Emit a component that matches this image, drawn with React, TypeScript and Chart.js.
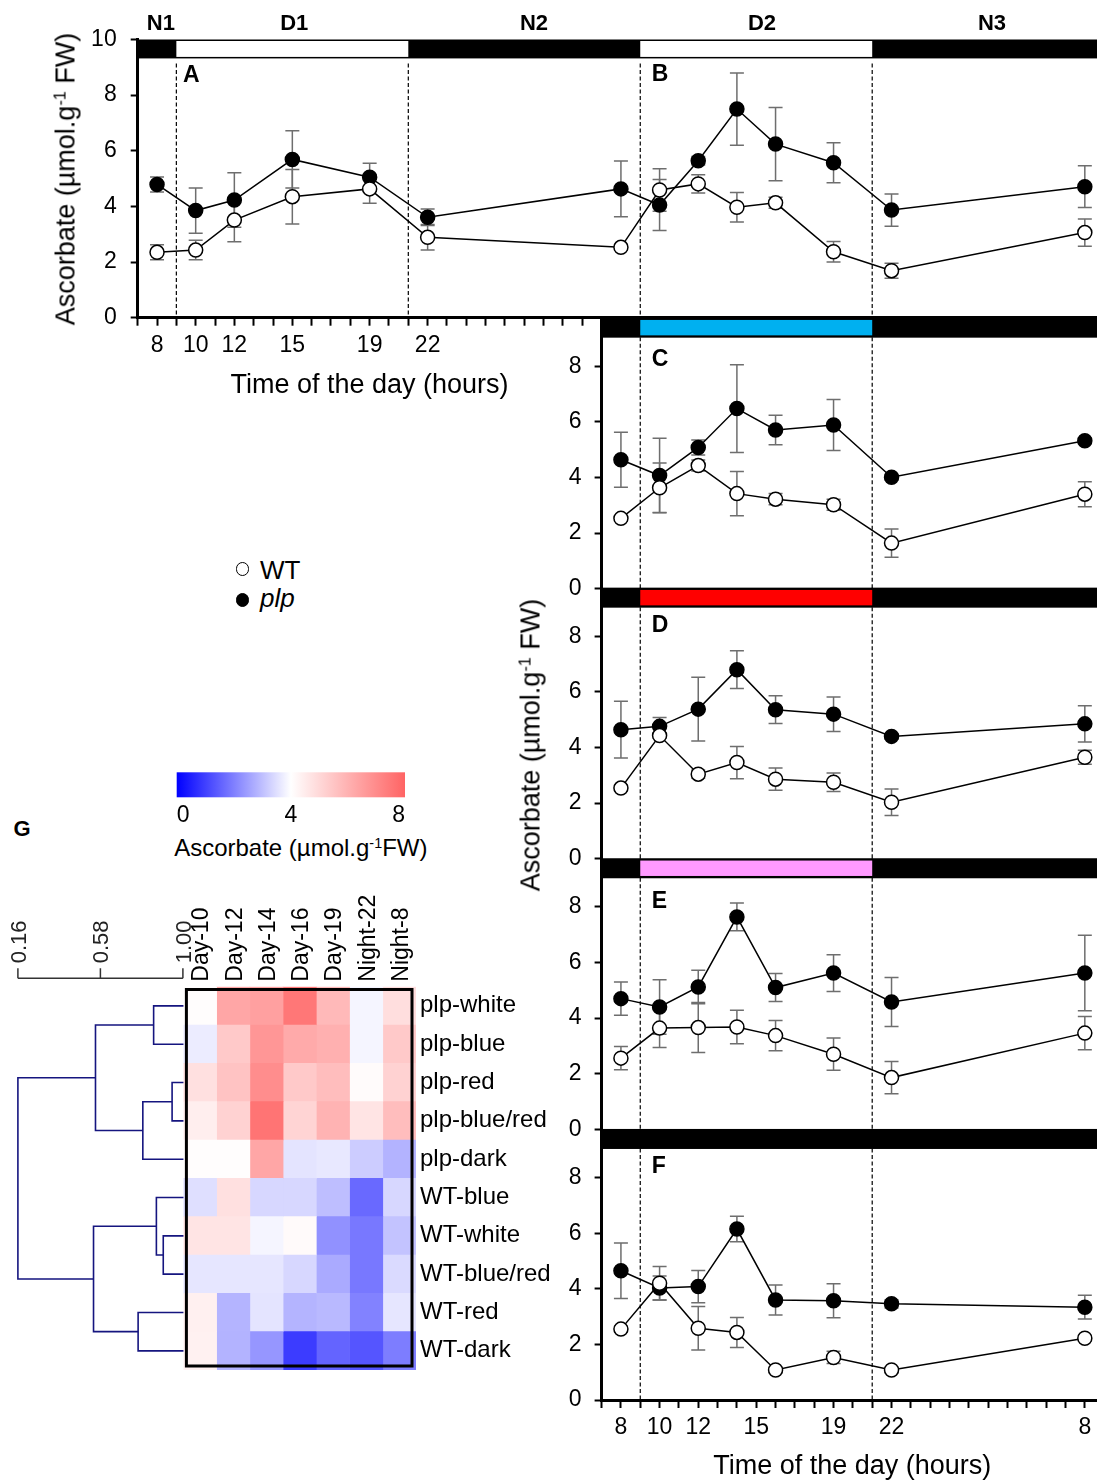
import React, { useEffect, useRef } from "react";
import { Chart, registerables } from "chart.js";

Chart.register(...registerables);

const FONT = "'Liberation Sans', Arial, Helvetica, sans-serif";
Chart.defaults.font.family = FONT;
Chart.defaults.color = "#000";

// ===== time axis (hours counted from 00:00 of day 1) =====
const timeStartTop = 7;
const timeStartLower = 31;
const timeEnd = 56.63;
const topTickLabelHours = [8, 10, 12, 15, 19, 22];
const bottomTickLabelHours = [32, 34, 36, 39, 43, 46, 56];

const periodNames = ["N1", "D1", "N2", "D2", "N3"];
const periodNameHours = [8.2, 15.1, 27.5, 39.3, 51.2];
const lightStart = [9, 33];
const lightEnd = [21, 45];
const transitionHours = [9, 21, 33, 45];

// ===== Panels A / B : white light =====
const hoursAB = [8, 10, 12, 15, 19, 22, 32, 34, 36, 38, 40, 43, 46, 56];
const wtAB = [2.35, 2.43, 3.51, 4.35, 4.63, 2.89, 2.53, 4.59, 4.81, 3.97, 4.13, 2.37, 1.69, 3.06];
const wtABErr = [0.27, 0.35, 0.78, 0.98, 0.52, 0.46, 0.1, 0.76, 0.33, 0.53, 0.2, 0.37, 0.27, 0.49];
const plpAB = [4.79, 3.85, 4.23, 5.69, 5.05, 3.61, 4.63, 4.05, 5.64, 7.5, 6.24, 5.57, 3.87, 4.71];
const plpABErr = [0.27, 0.81, 0.98, 1.03, 0.5, 0.3, 1.0, 0.92, 0.15, 1.3, 1.32, 0.72, 0.58, 0.75];

// ===== Panels C-F : day 2 =====
const hoursCF = [32, 34, 36, 38, 40, 43, 46, 56];
// C : blue light
const wtC = [2.53, 3.63, 4.43, 3.42, 3.22, 3.02, 1.64, 3.4];
const wtCErr = [0.1, 0.89, 0.2, 0.8, 0.2, 0.2, 0.51, 0.45];
const plpC = [4.64, 4.07, 5.08, 6.48, 5.71, 5.89, 4.01, 5.32];
const plpCErr = [0.99, 1.34, 0.27, 1.58, 0.53, 0.92, 0.1, 0.1];
// D : red light
const wtD = [2.54, 4.43, 3.04, 3.46, 2.86, 2.75, 2.03, 3.65];
const wtDErr = [0.1, 0.1, 0.15, 0.58, 0.4, 0.33, 0.48, 0.25];
const plpD = [4.64, 4.76, 5.38, 6.8, 5.36, 5.2, 4.4, 4.85];
const plpDErr = [1.02, 0.32, 1.15, 0.68, 0.5, 0.62, 0.1, 0.65];
// E : blue/red light
const wtE = [2.56, 3.64, 3.66, 3.68, 3.37, 2.7, 1.86, 3.46];
const wtEErr = [0.42, 0.7, 0.9, 0.6, 0.54, 0.58, 0.58, 0.6];
const plpE = [4.7, 4.4, 5.12, 7.64, 5.1, 5.62, 4.58, 5.62];
const plpEErr = [0.6, 0.98, 0.6, 0.5, 0.5, 0.66, 0.88, 1.36];
// F : dark
const wtF = [2.55, 4.2, 2.58, 2.43, 1.08, 1.53, 1.08, 2.22];
const wtFErr = [0.1, 0.6, 0.78, 0.54, 0.1, 0.22, 0.1, 0.1];
const plpF = [4.65, 4.03, 4.08, 6.15, 3.6, 3.57, 3.46, 3.34];
const plpFErr = [1.0, 0.43, 0.58, 0.46, 0.54, 0.61, 0.15, 0.43];

const panelLetters = ["C", "D", "E", "F"];
const panelLightColors = ["#00B0F0", "#FF0000", "#FF99FF", ""];
const panelLetterValues = [8.25, 8.37, 8.19, 8.4];

// ===== heatmap (G) =====
const heatColumns = ["Day-10", "Day-12", "Day-14", "Day-16", "Day-19", "Night-22", "Night-8"];
const heatRowLabels = ["plp-white", "plp-blue", "plp-red", "plp-blue/red", "plp-dark", "WT-blue", "WT-white", "WT-blue/red", "WT-red", "WT-dark"];
const hmPlpWhite = [4.05, 6.3, 6.45, 7.5, 5.8, 3.85, 4.85];
const hmPlpBlue = [3.7, 5.4, 6.7, 6.2, 6.05, 3.85, 5.4];
const hmPlpRed = [4.8, 5.55, 6.95, 5.4, 5.7, 4.1, 5.15];
const hmPlpBlueRed = [4.45, 5.15, 7.6, 5.1, 5.95, 4.7, 5.7];
const hmPlpDark = [4.05, 4.05, 6.3, 3.58, 3.64, 3.2, 2.8];
const hmWtBlue = [3.5, 4.8, 3.37, 3.37, 2.98, 1.65, 3.37];
const hmWtWhite = [4.7, 4.7, 3.85, 4.12, 2.27, 1.88, 3.06];
const hmWtBlueRed = [3.6, 3.6, 3.6, 3.37, 2.67, 1.88, 3.42];
const hmWtRed = [4.4, 2.82, 3.58, 2.82, 2.9, 2.04, 3.6];
const hmWtDark = [4.35, 2.8, 2.35, 0.94, 1.57, 1.33, 1.96];
const heatMatrix = [hmPlpWhite, hmPlpBlue, hmPlpRed, hmPlpBlueRed, hmPlpDark, hmWtBlue, hmWtWhite, hmWtBlueRed, hmWtRed, hmWtDark];

const colorbarTicks = [0, 4, 8];

// dendrogram: [nodeA, nodeB, similarity]; leaves are 0..9, new nodes numbered from 10
const dendroMerges: [number, number, number][] = [
  [0, 1, 0.851],
  [2, 3, 0.945],
  [11, 4, 0.796],
  [10, 12, 0.555],
  [6, 7, 0.9],
  [5, 14, 0.865],
  [8, 9, 0.772],
  [15, 16, 0.545],
  [13, 17, 0.16],
];
const dendroLeafLevel = 1.006;
const dendroTicks = [0.16, 0.58, 1.0];

// ===== helpers =====
function heatColor(v: number) {
  if (v <= 4) {
    const t = Math.max(0, v / 4);
    const c = Math.round(255 * t);
    return `rgb(${c},${c},255)`;
  }
  const t = Math.min(1, (v - 4) / 4);
  const c = Math.round(255 - 155 * t);
  return `rgb(255,${c},${c})`;
}

const zeroPad = (s: any) => {
  s.paddingTop = 0;
  s.paddingBottom = 0;
  s.paddingLeft = 0;
  s.paddingRight = 0;
};

const tickFont = { family: FONT, size: 23 };

const decorPlugin = {
  id: "decor",
  beforeDatasetsDraw(chart: any, _a: any, opts: any) {
    const { ctx, chartArea: ca, scales } = chart;
    const x = scales.x;
    const y = scales.y;
    ctx.save();
    ctx.strokeStyle = "#000";
    ctx.lineWidth = 1.2;
    ctx.setLineDash([4, 2.5]);
    const y0 = opts.dashFrom != null ? y.getPixelForValue(opts.dashFrom) + opts.dashGap : ca.top;
    for (const h of opts.dashes || []) {
      const px = x.getPixelForValue(h);
      ctx.beginPath();
      ctx.moveTo(px, y0);
      ctx.lineTo(px, ca.bottom);
      ctx.stroke();
    }
    ctx.restore();
    // error bars
    ctx.save();
    ctx.strokeStyle = "#6e6e6e";
    ctx.lineWidth = 1.5;
    chart.data.datasets.forEach((ds: any) => {
      const errs = ds.errors;
      if (!errs) return;
      ds.data.forEach((p: any, i: number) => {
        const e = errs[i];
        if (!e) return;
        const px = x.getPixelForValue(p.x);
        const t = y.getPixelForValue(p.y + e);
        const b = y.getPixelForValue(p.y - e);
        ctx.beginPath();
        ctx.moveTo(px, t);
        ctx.lineTo(px, b);
        ctx.moveTo(px - 7, t);
        ctx.lineTo(px + 7, t);
        ctx.moveTo(px - 7, b);
        ctx.lineTo(px + 7, b);
        ctx.stroke();
      });
    });
    ctx.restore();
  },
  afterDatasetsDraw(chart: any, _a: any, opts: any) {
    const { ctx, chartArea: ca, scales } = chart;
    const x = scales.x;
    const y = scales.y;
    ctx.save();
    const yt = y.getPixelForValue(opts.barTop);
    const yb = y.getPixelForValue(opts.barBottom);
    ctx.fillStyle = "#000";
    ctx.fillRect(ca.left, yt, ca.right - ca.left, yb - yt);
    for (const seg of opts.segments || []) {
      const x1 = x.getPixelForValue(seg.from);
      const x2 = x.getPixelForValue(seg.to);
      ctx.fillStyle = seg.color;
      ctx.fillRect(x1, yt + opts.inset, x2 - x1, yb - yt - 2 * opts.inset);
    }
    ctx.fillStyle = "#000";
    ctx.textBaseline = "middle";
    ctx.font = `bold 23px ${FONT}`;
    ctx.textAlign = "left";
    for (const l of opts.letters || []) {
      ctx.fillText(l.text, x.getPixelForValue(l.x), y.getPixelForValue(l.y));
    }
    ctx.font = `bold 22px ${FONT}`;
    ctx.textAlign = "center";
    for (const p of opts.periods || []) {
      ctx.fillText(p.text, x.getPixelForValue(p.x), ca.top - 16);
    }
    ctx.restore();
  },
};

function lineDatasets(hours: number[], wt: number[], wtErr: number[], plp: number[], plpErr: number[]) {
  const common = {
    showLine: true,
    borderColor: "#000",
    borderWidth: 1.5,
    pointRadius: 7,
    pointHoverRadius: 7,
    pointBorderColor: "#000",
    pointBorderWidth: 1.5,
    tension: 0,
    clip: false,
  };
  return [
    { ...common, label: "WT", data: hours.map((h, i) => ({ x: h, y: wt[i] })), errors: wtErr, pointBackgroundColor: "#fff" },
    { ...common, label: "plp", data: hours.map((h, i) => ({ x: h, y: plp[i] })), errors: plpErr, pointBackgroundColor: "#000" },
  ];
}

function xAxis(min: number, maxTickHour: number, labelHours: number[], height: number, display: boolean) {
  return {
    type: "linear",
    min,
    max: timeEnd,
    display,
    afterBuildTicks: (s: any) => {
      const t = [];
      for (let h = min; h <= maxTickHour; h++) t.push({ value: h });
      s.ticks = t;
    },
    afterFit: (s: any) => {
      s.height = display ? height : 0;
      zeroPad(s);
    },
    ticks: {
      autoSkip: false,
      maxRotation: 0,
      minRotation: 0,
      color: "#000",
      font: tickFont,
      padding: 6,
      callback: (v: any) => (labelHours.includes(v) ? String(v % 24) : ""),
    },
    grid: { display: true, drawOnChartArea: false, drawTicks: true, tickLength: 8, tickWidth: 2, tickColor: "#000", color: "#000" },
    border: { display: true, color: "#000", width: 3 },
  };
}

function yAxis(max: number, ticks: number[], width: number, pad: number) {
  return {
    type: "linear",
    min: 0,
    max,
    afterBuildTicks: (s: any) => {
      s.ticks = ticks.map((v) => ({ value: v }));
    },
    afterFit: (s: any) => {
      s.width = width;
      zeroPad(s);
    },
    ticks: { color: "#000", font: tickFont, padding: pad, crossAlign: "near" },
    grid: { display: true, drawOnChartArea: false, drawTicks: true, tickLength: 7, tickWidth: 2, tickColor: "#000", color: "#000" },
    border: { display: true, color: "#000", width: 3 },
  };
}

const baseOptions = {
  responsive: false,
  animation: false,
  events: [],
};

function layoutPad(p: any) {
  return { autoPadding: false, padding: p };
}

function makeTopConfig() {
  return {
    type: "scatter",
    data: { datasets: lineDatasets(hoursAB, wtAB, wtABErr, plpAB, plpABErr) },
    options: {
      ...baseOptions,
      layout: layoutPad({ top: 39.5, left: 0, right: 0, bottom: 0 }),
      plugins: {
        legend: { display: false },
        tooltip: { enabled: false },
        decor: {
          barTop: 10,
          barBottom: 9.32,
          inset: 1.5,
          segments: lightStart.map((s, i) => ({ from: s, to: lightEnd[i], color: "#fff" })),
          dashes: transitionHours,
          dashFrom: 9.32,
          dashGap: 5,
          letters: [
            { text: "A", x: 9.35, y: 8.69 },
            { text: "B", x: 33.6, y: 8.73 },
          ],
          periods: periodNames.map((n, i) => ({ text: n, x: periodNameHours[i] })),
        },
      },
      scales: {
        x: xAxis(timeStartTop, 31, topTickLabelHours, 82.3, true),
        y: yAxis(10, [0, 2, 4, 6, 8, 10], 137.7, 14),
      },
    },
    plugins: [decorPlugin],
  };
}

const lowerSeries = [
  [wtC, wtCErr, plpC, plpCErr],
  [wtD, wtDErr, plpD, plpDErr],
  [wtE, wtEErr, plpE, plpEErr],
  [wtF, wtFErr, plpF, plpFErr],
];
const panelBottoms = [588.7, 858.7, 1129.3, 1400];
const LOWER_LEFT = 540;
const LOWER_W = 557;
const LOWER_YMAX = 9.75;
const LOWER_H = LOWER_YMAX * 27.8;

function lowerGeom(i: number) {
  const bottom = panelBottoms[i];
  const chartTop = bottom - LOWER_H;
  const canvasTop = Math.floor(chartTop) - 10;
  const padTop = chartTop - canvasTop;
  const last = i === 3;
  const canvasHeight = last ? 1484 - canvasTop : Math.ceil(bottom) + 14 - canvasTop;
  const padBottom = last ? 0 : canvasTop + canvasHeight - bottom;
  return { canvasTop, canvasHeight, padTop, padBottom, last, xh: 1484 - bottom };
}

function makeLowerConfig(i: number) {
  const g = lowerGeom(i);
  const [wt, wtErr, plp, plpErr] = lowerSeries[i];
  const color = panelLightColors[i];
  return {
    type: "scatter",
    data: { datasets: lineDatasets(hoursCF, wt, wtErr, plp, plpErr) },
    options: {
      ...baseOptions,
      layout: layoutPad({ top: g.padTop, left: 0, right: 0, bottom: g.padBottom }),
      plugins: {
        legend: { display: false },
        tooltip: { enabled: false },
        decor: {
          barTop: LOWER_YMAX,
          barBottom: LOWER_YMAX - 0.72,
          inset: 2.3,
          segments: color ? [{ from: lightStart[1], to: lightEnd[1], color }] : [],
          dashes: [transitionHours[2], transitionHours[3]],
          dashFrom: null,
          dashGap: 0,
          letters: [{ text: panelLetters[i], x: 33.6, y: panelLetterValues[i] }],
          periods: [],
        },
      },
      scales: {
        x: xAxis(timeStartLower, 56, bottomTickLabelHours, g.xh, g.last),
        y: yAxis(LOWER_YMAX, [0, 2, 4, 6, 8], 601.6 - LOWER_LEFT, 13),
      },
    },
    plugins: [decorPlugin],
  };
}

// ----- heatmap -----
const heatPlugin = {
  id: "heatDecor",
  afterDatasetsDraw(chart: any) {
    const { ctx, chartArea: ca, scales } = chart;
    const x = scales.x;
    ctx.save();
    ctx.strokeStyle = "#000";
    ctx.lineWidth = 3;
    ctx.strokeRect(ca.left + 3, ca.top + 2.8, ca.right - ca.left - 7, ca.bottom - ca.top - 6.8);
    ctx.fillStyle = "#000";
    ctx.font = `23px ${FONT}`;
    ctx.textAlign = "left";
    ctx.textBaseline = "middle";
    heatColumns.forEach((c, j) => {
      const px = x.getPixelForValue(j + 0.5) + 2;
      ctx.save();
      ctx.translate(px, ca.top - 5);
      ctx.rotate(-Math.PI / 2);
      ctx.fillText(c, 0, 0);
      ctx.restore();
    });
    ctx.restore();
  },
};

function makeHeatConfig() {
  return {
    type: "bar",
    data: {
      labels: heatRowLabels,
      datasets: heatColumns.map((c, j) => ({
        label: c,
        data: heatRowLabels.map(() => 1),
        backgroundColor: heatMatrix.map((row) => heatColor(row[j])),
        borderWidth: 0,
        barPercentage: 1,
        categoryPercentage: 1,
        stack: "s",
      })),
    },
    options: {
      ...baseOptions,
      indexAxis: "y",
      layout: layoutPad({ left: 23.4, top: 106.7, bottom: 10, right: 0 }),
      plugins: { legend: { display: false }, tooltip: { enabled: false } },
      scales: {
        x: { type: "linear", stacked: true, min: 0, max: 7, display: false, afterFit: zeroPad },
        y: {
          type: "category",
          stacked: true,
          position: "right",
          grid: { display: false, drawTicks: false },
          border: { display: false },
          ticks: { color: "#000", font: { family: FONT, size: 24 }, padding: 4, crossAlign: "near", autoSkip: false },
          afterFit: (s: any) => {
            s.width = 164;
            zeroPad(s);
          },
        },
      },
    },
    plugins: [heatPlugin],
  };
}

// ----- dendrogram -----
function dendroSegments() {
  const pos: { y: number; h: number }[] = heatRowLabels.map((_, i) => ({ y: i, h: dendroLeafLevel }));
  const segs: { x: number; y: number }[][] = [];
  for (const [a, b, h] of dendroMerges) {
    const A = pos[a];
    const B = pos[b];
    segs.push([
      { x: A.h, y: A.y },
      { x: h, y: A.y },
      { x: h, y: B.y },
      { x: B.h, y: B.y },
    ]);
    pos.push({ y: (A.y + B.y) / 2, h });
  }
  return segs;
}

const dendroAxisPlugin = {
  id: "dendroAxis",
  afterDraw(chart: any) {
    const { ctx, chartArea: ca, scales } = chart;
    const x = scales.x;
    ctx.save();
    ctx.strokeStyle = "#333";
    ctx.lineWidth = 1.5;
    ctx.beginPath();
    ctx.moveTo(x.getPixelForValue(dendroTicks[0]), ca.top);
    ctx.lineTo(x.getPixelForValue(dendroTicks[dendroTicks.length - 1]), ca.top);
    for (const t of dendroTicks) {
      const px = x.getPixelForValue(t);
      ctx.moveTo(px, ca.top);
      ctx.lineTo(px, ca.top - 10);
    }
    ctx.stroke();
    ctx.fillStyle = "#222";
    ctx.font = `22px ${FONT}`;
    ctx.textAlign = "left";
    ctx.textBaseline = "middle";
    for (const t of dendroTicks) {
      const px = x.getPixelForValue(t) + 2;
      ctx.save();
      ctx.translate(px, ca.top - 15);
      ctx.rotate(-Math.PI / 2);
      ctx.fillText(t.toFixed(2), 0, 0);
      ctx.restore();
    }
    ctx.restore();
  },
};

function makeDendroConfig() {
  return {
    type: "scatter",
    data: {
      datasets: dendroSegments().map((seg) => ({
        data: seg,
        showLine: true,
        borderColor: "#15157f",
        borderWidth: 1.6,
        pointRadius: 0,
        tension: 0,
        clip: false,
      })),
    },
    options: {
      ...baseOptions,
      layout: layoutPad({ left: 17.9, right: 200 - 182.9, top: 98.3, bottom: 10 }),
      plugins: { legend: { display: false }, tooltip: { enabled: false } },
      scales: {
        x: { type: "linear", min: 0.16, max: 1.0, display: false, afterFit: zeroPad },
        y: { type: "linear", min: -0.719, max: 9.5, reverse: true, display: false, afterFit: zeroPad },
      },
    },
    plugins: [dendroAxisPlugin],
  };
}

// ----- colour bar -----
const colorbarPlugin = {
  id: "cbar",
  beforeDatasetsDraw(chart: any) {
    const { ctx, chartArea: ca, scales } = chart;
    const x = scales.x;
    const x0 = x.getPixelForValue(colorbarTicks[0]);
    const x1 = x.getPixelForValue(colorbarTicks[colorbarTicks.length - 1]);
    const g = ctx.createLinearGradient(x0, 0, x1, 0);
    colorbarTicks.forEach((v) => g.addColorStop((v - colorbarTicks[0]) / (colorbarTicks[2] - colorbarTicks[0]), heatColor(v)));
    ctx.save();
    ctx.fillStyle = g;
    ctx.fillRect(x0, ca.top, x1 - x0, ca.bottom - ca.top);
    ctx.restore();
  },
};

function makeColorbarConfig() {
  return {
    type: "scatter",
    data: { datasets: [] },
    options: {
      ...baseOptions,
      layout: layoutPad({ left: 26.7, right: 45, top: 12.3, bottom: 0 }),
      plugins: { legend: { display: false }, tooltip: { enabled: false } },
      scales: {
        x: {
          type: "linear",
          min: 0,
          max: 8,
          afterBuildTicks: (s: any) => {
            s.ticks = colorbarTicks.map((v) => ({ value: v }));
          },
          afterFit: (s: any) => {
            s.height = 32.7;
            zeroPad(s);
          },
          ticks: { align: "inner", font: tickFont, color: "#000", padding: 4.5, maxRotation: 0 },
          grid: { display: false, drawTicks: false },
          border: { display: false },
        },
        y: { type: "linear", min: 0, max: 1, display: false, afterFit: zeroPad },
      },
    },
    plugins: [colorbarPlugin],
  };
}

// ===== React =====
function ChartBox({ left, top, width, height, make }: { left: number; top: number; width: number; height: number; make: () => any }) {
  const ref = useRef<HTMLCanvasElement>(null);
  useEffect(() => {
    const chart = new Chart(ref.current as HTMLCanvasElement, make());
    return () => chart.destroy();
  }, []);
  return <canvas ref={ref} width={width} height={height} style={{ position: "absolute", left, top, width, height }} />;
}

function Txt({ x, y, size, bold, italic, rotate, anchor, children }: any) {
  const tx = anchor === "left" ? "0" : "-50%";
  return (
    <div
      style={{
        position: "absolute",
        left: x,
        top: y,
        transform: `translate(${tx}, -50%)` + (rotate ? " rotate(-90deg)" : ""),
        fontFamily: FONT,
        fontSize: size,
        lineHeight: `${size}px`,
        fontWeight: bold ? 700 : 400,
        fontStyle: italic ? "italic" : "normal",
        whiteSpace: "nowrap",
        color: "#000",
      }}
    >
      {children}
    </div>
  );
}

const Sup = ({ children }: any) => (
  <sup style={{ fontSize: "0.6em", lineHeight: 0, verticalAlign: "0.55em" }}>{children}</sup>
);

function Dot({ x, y, filled }: { x: number; y: number; filled: boolean }) {
  return (
    <div
      style={{
        position: "absolute",
        left: x - 6.75,
        top: y - 6.75,
        width: 13.5,
        height: 13.5,
        boxSizing: "border-box",
        borderRadius: "50%",
        border: "1.5px solid #000",
        background: filled ? "#000" : "#fff",
      }}
    />
  );
}

export default function App() {
  return (
    <div style={{ position: "absolute", left: 0, top: 0, width: 1097, height: 1484, background: "#fff", overflow: "hidden" }}>
      <ChartBox left={0} top={0} width={1097} height={400} make={makeTopConfig} />
      {[0, 1, 2, 3].map((i) => {
        const g = lowerGeom(i);
        return <ChartBox key={i} left={LOWER_LEFT} top={g.canvasTop} width={LOWER_W} height={g.canvasHeight} make={() => makeLowerConfig(i)} />;
      })}
      <ChartBox left={150} top={760} width={300} height={70} make={makeColorbarConfig} />
      <ChartBox left={0} top={880} width={200} height={500} make={makeDendroConfig} />
      <ChartBox left={160} top={880} width={420} height={500} make={makeHeatConfig} />

      <Txt x={65.5} y={178.6} size={27} rotate>
        Ascorbate (µmol.g<Sup>-1</Sup> FW)
      </Txt>
      <Txt x={369.5} y={384.3} size={27}>
        Time of the day (hours)
      </Txt>
      <Txt x={530.5} y={745} size={27} rotate>
        Ascorbate (µmol.g<Sup>-1</Sup> FW)
      </Txt>
      <Txt x={852.3} y={1465.3} size={27}>
        Time of the day (hours)
      </Txt>

      <Dot x={242.7} y={568.8} filled={false} />
      <Dot x={242.7} y={600} filled />
      <Txt x={260} y={569.5} size={26} anchor="left">
        WT
      </Txt>
      <Txt x={260} y={598} size={26} anchor="left" italic>
        plp
      </Txt>

      <Txt x={300.8} y={847.7} size={24}>
        Ascorbate (µmol.g<Sup>-1</Sup>FW)
      </Txt>
      <Txt x={22} y={828.5} size={22} bold>
        G
      </Txt>
    </div>
  );
}
